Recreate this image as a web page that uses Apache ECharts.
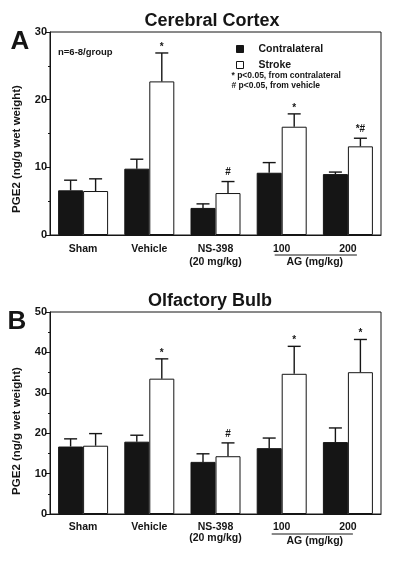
<!DOCTYPE html>
<html>
<head>
<meta charset="utf-8">
<script src="https://cdn.jsdelivr.net/npm/echarts@6/dist/echarts.min.js"></script>
<style>
html,body{margin:0;padding:0;background:#fff;}
#chart{width:400px;height:565px;}
</style>
</head>
<body>
<div id="chart"></div>
<script>
var categories = ['Sham', 'Vehicle', 'NS-398\n(20 mg/kg)', '100', '200'];
var seriesNames = ['Contralateral', 'Stroke'];

var cortexContra = [6.6, 9.8, 4.0, 9.2, 9.0];
var cortexContraErr = [1.5, 1.4, 0.6, 1.5, 0.3];
var cortexStroke = [6.5, 22.7, 6.2, 16.0, 13.1];
var cortexStrokeErr = [1.8, 4.2, 1.7, 1.9, 1.2];
var cortexStrokeSig = ['', '*', '#', '*', '*#'];

var bulbContra = [16.7, 17.9, 12.9, 16.3, 17.8];
var bulbContraErr = [1.9, 1.6, 2.0, 2.5, 3.5];
var bulbStroke = [16.9, 33.5, 14.3, 34.7, 35.1];
var bulbStrokeErr = [3.0, 4.9, 3.3, 6.8, 8.1];
var bulbStrokeSig = ['', '*', '#', '*', '*'];

var cortexTicks = [0, 10, 20, 30];
var bulbTicks = [0, 10, 20, 30, 40, 50];

var FONT = '"Liberation Sans", Arial, Helvetica, sans-serif';
var INK = '#151515';

var chart = echarts.init(document.getElementById('chart'), null, {renderer: 'canvas'});

function errData(vals, errs, sigs) {
  return vals.map(function (v, i) { return [i, v, errs[i], sigs ? sigs[i] : '']; });
}

function errRenderer(offset) {
  return function (params, api) {
    var i = api.value(0), v = api.value(1), e = api.value(2);
    var sig = api.value(3);
    var base = api.coord([i, v]);
    var top = api.coord([i, v + e]);
    var x = base[0] + offset;
    var children = [
      {type: 'line', shape: {x1: x, y1: base[1], x2: x, y2: top[1]}, style: {stroke: INK, lineWidth: 1.4}},
      {type: 'line', shape: {x1: x - 6.5, y1: top[1], x2: x + 6.5, y2: top[1]}, style: {stroke: INK, lineWidth: 1.4}}
    ];
    if (sig && sig !== '-' ) {
      children.push({
        type: 'text',
        style: {
          text: sig, x: x, y: top[1] - (String(sig).indexOf('#') >= 0 ? 9 : 6),
          textAlign: 'center', textVerticalAlign: 'middle',
          font: 'bold 10px ' + FONT, fill: INK
        }
      });
    }
    return {type: 'group', children: children};
  };
}

function yAxisCfg(gi, max) {
  return {
    gridIndex: gi, type: 'value', min: 0, max: max, interval: 10,
    axisLine: {show: true, lineStyle: {color: INK, width: 1}},
    axisTick: {show: true, length: 5, lineStyle: {color: INK}},
    minorTick: {show: true, splitNumber: 2, length: 2, lineStyle: {color: INK}},
    splitLine: {show: false},
    axisLabel: {fontFamily: FONT, fontWeight: 'bold', fontSize: 11, color: INK, margin: 3}
  };
}

function xAxisCfg(gi, lh, margin) {
  return {
    gridIndex: gi, type: 'category', data: categories,
    axisLine: {show: true, lineStyle: {color: INK, width: 1}},
    axisTick: {show: false},
    axisLabel: {interval: 0, fontFamily: FONT, fontWeight: 'bold', fontSize: 10.5, color: INK, lineHeight: lh, margin: margin}
  };
}

var barContraStyle = {color: INK, borderColor: INK, borderWidth: 1};
var barStrokeStyle = {color: '#ffffff', borderColor: INK, borderWidth: 1};

var option = {
  backgroundColor: '#ffffff',
  animation: false,
  grid: [
    {left: 50, top: 32, width: 331, height: 203, show: true, borderColor: INK, borderWidth: 1, backgroundColor: 'transparent'},
    {left: 50, top: 312, width: 331, height: 202, show: true, borderColor: INK, borderWidth: 1, backgroundColor: 'transparent'}
  ],
  xAxis: [xAxisCfg(0, 12.5, 8), xAxisCfg(1, 11, 8)],
  yAxis: [yAxisCfg(0, 30), yAxisCfg(1, 50)],
  legend: {
    data: seriesNames, orient: 'vertical', left: 231, top: 38,
    itemWidth: 7, itemHeight: 7, itemGap: 4, icon: 'rect',
    selectedMode: false,
    itemStyle: {borderWidth: 1},
    textStyle: {fontFamily: FONT, fontWeight: 'bold', fontSize: 10.5, color: INK, lineHeight: 12, padding: [0, 0, 0, 10]}
  },
  series: [
    {name: seriesNames[0], type: 'bar', xAxisIndex: 0, yAxisIndex: 0, data: cortexContra, barWidth: 25, barGap: '0%', itemStyle: barContraStyle},
    {name: seriesNames[1], type: 'bar', xAxisIndex: 0, yAxisIndex: 0, data: cortexStroke, barWidth: 25, barGap: '0%', itemStyle: barStrokeStyle},
    {name: seriesNames[0], type: 'bar', xAxisIndex: 1, yAxisIndex: 1, data: bulbContra, barWidth: 25, barGap: '0%', itemStyle: barContraStyle},
    {name: seriesNames[1], type: 'bar', xAxisIndex: 1, yAxisIndex: 1, data: bulbStroke, barWidth: 25, barGap: '0%', itemStyle: barStrokeStyle},
    {type: 'custom', xAxisIndex: 0, yAxisIndex: 0, renderItem: errRenderer(-12.5), data: errData(cortexContra, cortexContraErr), z: 5, silent: true},
    {type: 'custom', xAxisIndex: 0, yAxisIndex: 0, renderItem: errRenderer(12.5), data: errData(cortexStroke, cortexStrokeErr, cortexStrokeSig), z: 5, silent: true},
    {type: 'custom', xAxisIndex: 1, yAxisIndex: 1, renderItem: errRenderer(-12.5), data: errData(bulbContra, bulbContraErr), z: 5, silent: true},
    {type: 'custom', xAxisIndex: 1, yAxisIndex: 1, renderItem: errRenderer(12.5), data: errData(bulbStroke, bulbStrokeErr, bulbStrokeSig), z: 5, silent: true}
  ]
};
chart.setOption(option);

function txt(text, x, y, size, opts) {
  opts = opts || {};
  return {
    type: 'text', x: x, y: y, rotation: opts.rotation || 0, z: 10,
    style: {text: text, font: 'bold ' + size + 'px ' + FONT, fill: INK,
      textAlign: opts.align || 'center', textVerticalAlign: 'middle'}
  };
}

var gA100 = chart.convertToPixel({xAxisIndex: 0}, 3);
var gA200 = chart.convertToPixel({xAxisIndex: 0}, 4);
var gB100 = chart.convertToPixel({xAxisIndex: 1}, 3);
var gB200 = chart.convertToPixel({xAxisIndex: 1}, 4);
var y0A = chart.convertToPixel({yAxisIndex: 0}, 0);
var y0B = chart.convertToPixel({yAxisIndex: 1}, 0);

chart.setOption({
  graphic: [
    txt('Cerebral Cortex', 212, 21, 18),
    txt('Olfactory Bulb', 210, 301, 18),
    txt('A', 20, 42, 26),
    txt('B', 17, 322, 26),
    txt('PGE2 (ng/g wet weight)', 17, 149, 11.5, {rotation: Math.PI / 2}),
    txt('PGE2 (ng/g wet weight)', 17, 431, 11.5, {rotation: Math.PI / 2}),
    txt('n=6-8/group', 58, 52, 9.5, {align: 'left'}),
    txt('* p<0.05, from contralateral', 231.5, 76, 8.5, {align: 'left'}),
    txt('# p<0.05, from vehicle', 231.5, 86, 8.5, {align: 'left'}),
    {type: 'line', z: 10, shape: {x1: gA100 - 7, y1: y0A + 20, x2: gA200 + 9, y2: y0A + 20}, style: {stroke: INK, lineWidth: 1}},
    txt('AG (mg/kg)', (gA100 + gA200) / 2, y0A + 27.5, 10.5),
    {type: 'line', z: 10, shape: {x1: gB100 - 10, y1: y0B + 20, x2: gB200 + 5, y2: y0B + 20}, style: {stroke: INK, lineWidth: 1}},
    txt('AG (mg/kg)', (gB100 + gB200) / 2, y0B + 27.5, 10.5)
  ]
});
</script>
</body>
</html>
